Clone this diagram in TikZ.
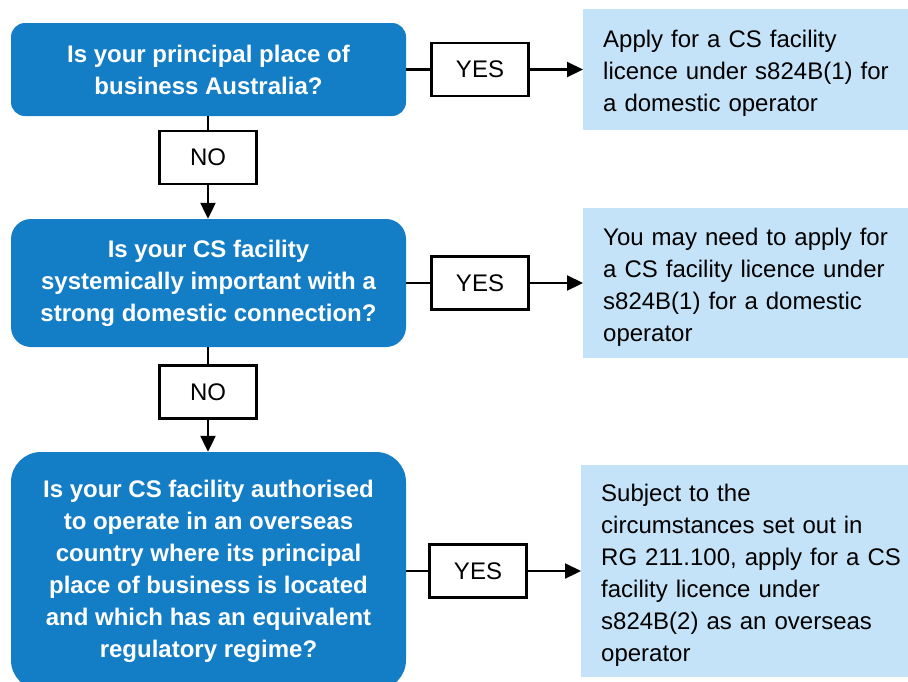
\documentclass[tikz,border=0pt]{standalone}
\usepackage{fontspec}
\setmainfont{Liberation Sans}
\usetikzlibrary{arrows.meta}
\definecolor{qblue}{RGB}{19,125,197}
\definecolor{ablue}{RGB}{197,227,248}
\tikzset{
  question/.style={fill=qblue, text=white, align=center, inner sep=0pt,
    minimum width=395pt, font=\bfseries\fontsize{24}{32}\selectfont,
    execute at begin node={\rule{0pt}{30pt}}},
  tagbox/.style={draw=black, line width=2.2pt, fill=white, inner sep=0pt,
    minimum width=97pt, minimum height=53pt, font=\fontsize{24}{28}\selectfont},
  answer/.style={fill=ablue, anchor=west, align=left, inner ysep=0pt, inner xsep=20pt,
    text width=305pt, font=\fontsize{24}{32}\selectfont,
    execute at begin node={\rule{0pt}{25pt}}},
  conn/.style={line width=2.2pt},
  arr/.style={conn, -{Triangle[length=16pt,width=15pt]}}
}
\begin{document}
\begin{tikzpicture}[x=1pt,y=-1pt]
\useasboundingbox (0,0) rectangle (908,681);
% questions
\node[question, minimum height=93pt, rounded corners=14pt] (b1) at (208.5,69.5)
  {Is your principal place of\\business Australia?};
\node[question, minimum height=128pt, rounded corners=20pt] (b2) at (208.5,283)
  {Is your CS facility\\systemically important with a\\strong domestic connection?};
\node[question, minimum height=238pt, rounded corners=30pt] (b3) at (208.5,571)
  {Is your CS facility authorised\\to operate in an overseas\\country where its principal\\place of business is located\\and which has an equivalent\\regulatory regime?};
% tags
\node[tagbox] (n1) at (208,157.5) {NO};
\node[tagbox] (n2) at (208,392) {NO};
\node[tagbox] (y1) at (480,69.5) {YES};
\node[tagbox] (y2) at (480,283) {YES};
\node[tagbox] (y3) at (478,571) {YES};
% answers
\node[answer, minimum height=121pt] (r1) at (583,69.5)
  {Apply for a CS facility\\licence under s824B(1) for\\a domestic operator};
\node[answer, minimum height=150pt] (r2) at (583,283)
  {You may need to apply for\\a CS facility licence under\\s824B(1) for a domestic\\operator};
\node[answer, minimum height=212pt] (r3) at (581,571)
  {Subject to the\\circumstances set out in\\RG 211.100, apply for a CS\\facility licence under\\s824B(2) as an overseas\\operator};
% connectors
\draw[conn] (b1.south -| n1) -- (n1.north);
\draw[arr] (n1.south) -- (b2.north -| n1);
\draw[conn] (b2.south -| n2) -- (n2.north);
\draw[arr] (n2.south) -- (b3.north -| n2);
\draw[conn] (b1.east) -- (y1.west);
\draw[arr] (y1.east) -- (r1.west);
\draw[conn] (b2.east) -- (y2.west);
\draw[arr] (y2.east) -- (r2.west);
\draw[conn] (b3.east) -- (y3.west);
\draw[arr] (y3.east) -- (r3.west);
\end{tikzpicture}
\end{document}
